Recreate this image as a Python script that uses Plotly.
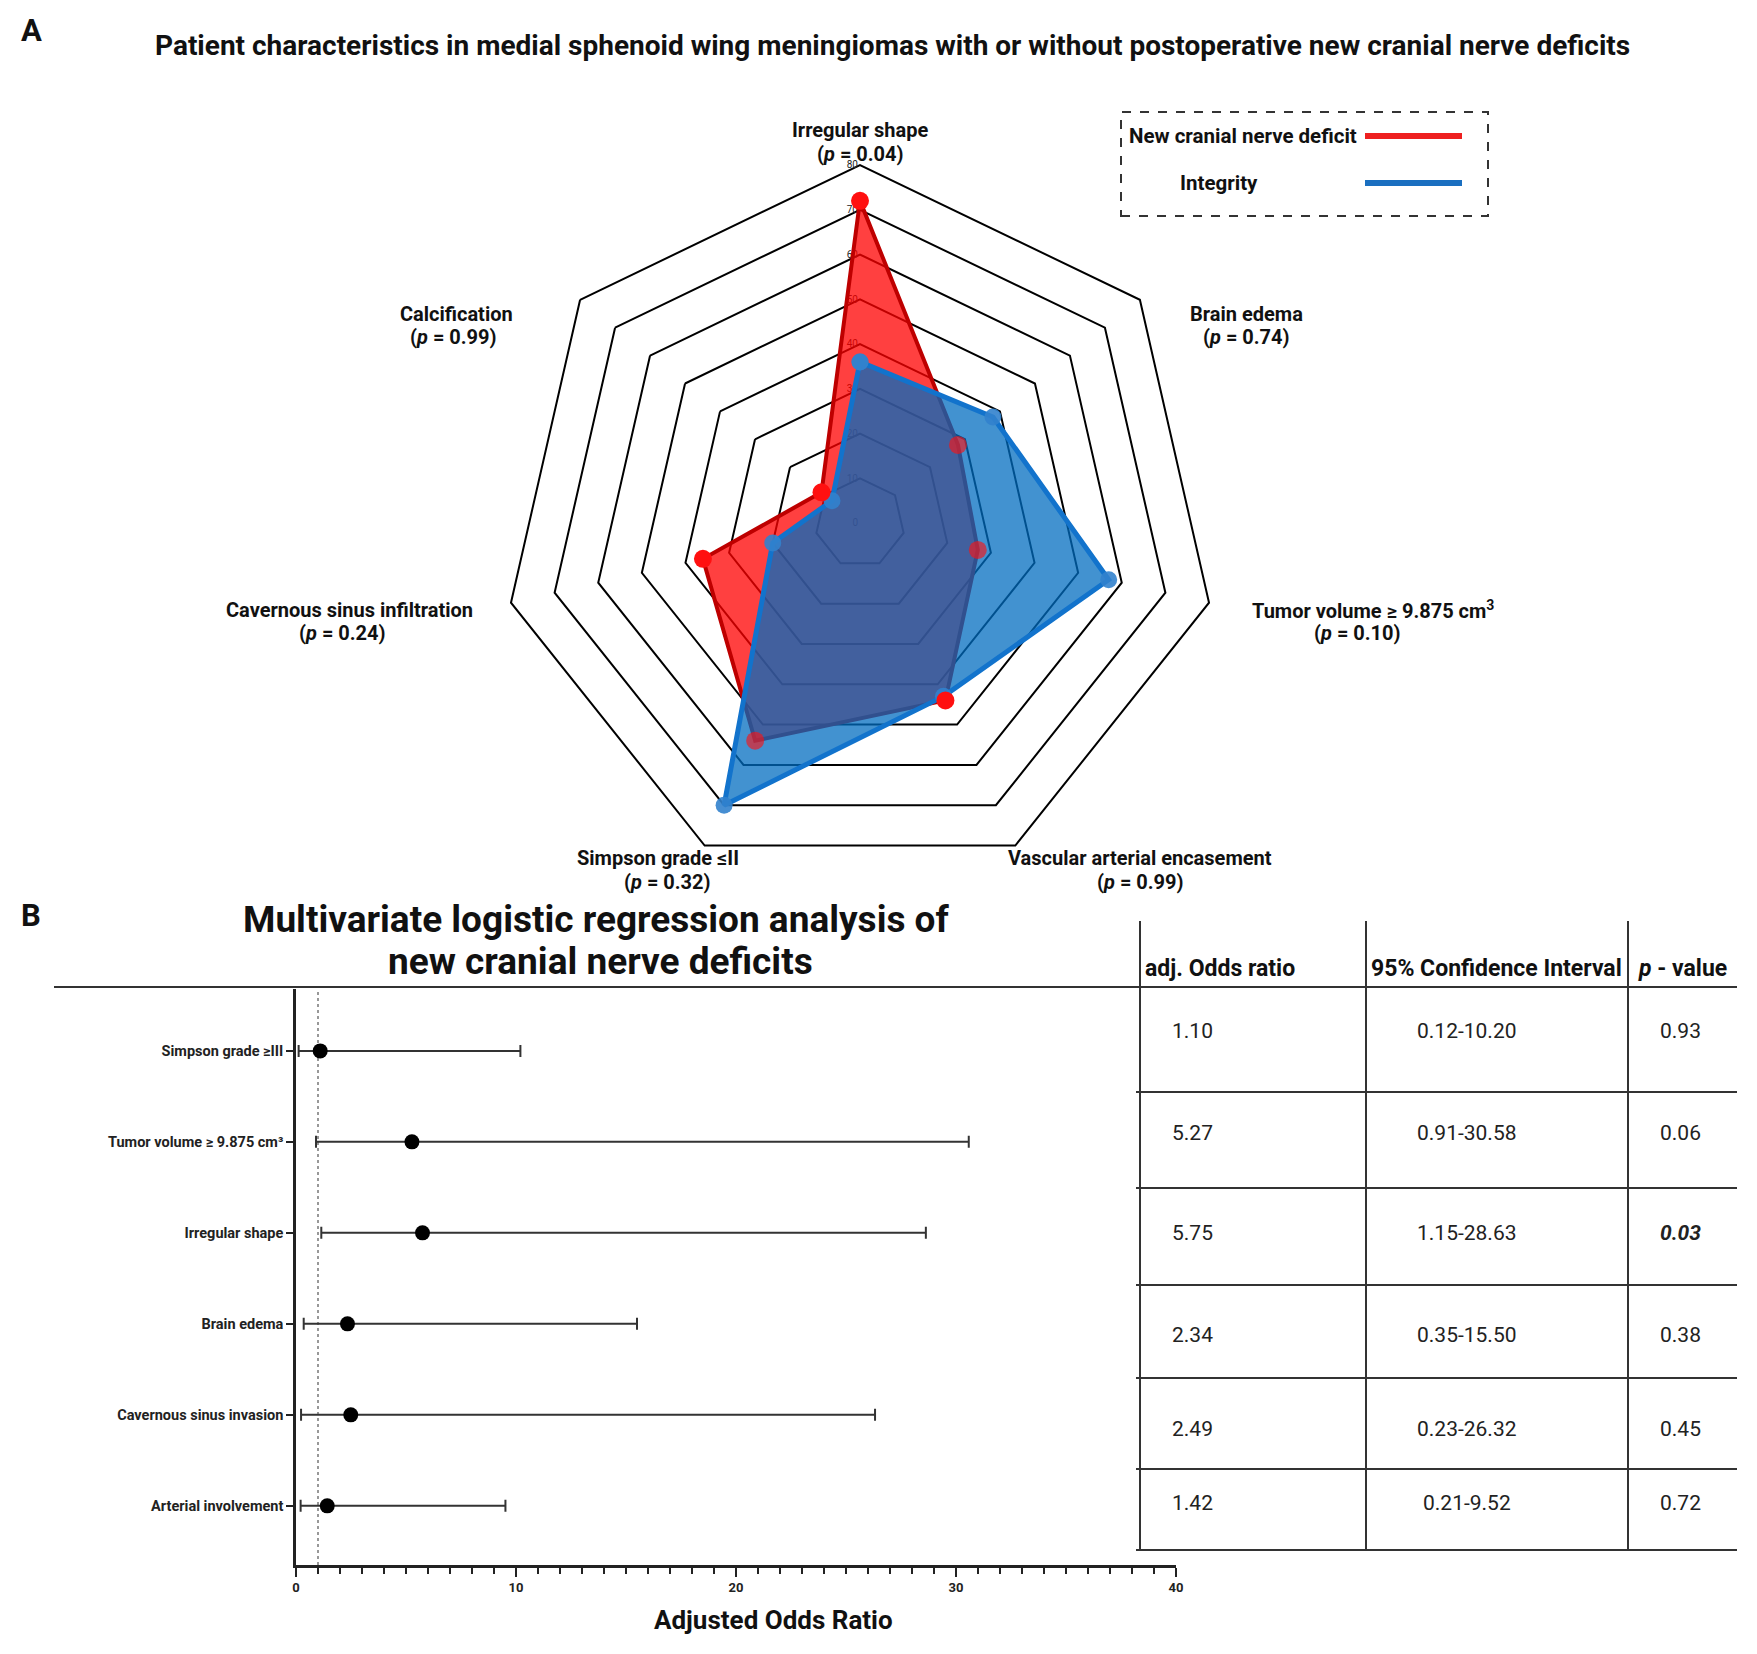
import plotly.graph_objects as go

W, H = 1757, 1654
OFF = 8                      # default page body margin
PW, PH = W - 2 * OFF, H - 2 * OFF

# ---------------- data ----------------
radar_categories = ["Irregular shape", "Brain edema", "Tumor volume ≥ 9.875 cm³",
                    "Vascular arterial encasement", "Simpson grade ≤II",
                    "Cavernous sinus infiltration", "Calcification"]
radar_labels = ["Irregular shape", "Brain edema", "Tumor volume ≥ 9.875 cm<sup>3</sup>",
                "Vascular arterial encasement", "Simpson grade ≤II",
                "Cavernous sinus infiltration", "Calcification"]
radar_pvalues = ["0.04", "0.74", "0.10", "0.99", "0.32", "0.24", "0.99"]
deficit_values = [72, 28, 27, 44, 54, 36, 11]
integrity_values = [36, 38, 57, 43, 70, 20, 8]
radial_ticks = [0, 10, 20, 30, 40, 50, 60, 70, 80]

forest_labels = ["Simpson grade ≥III", "Tumor volume ≥ 9.875 cm³", "Irregular shape",
                 "Brain edema", "Cavernous sinus invasion", "Arterial involvement"]
odds_ratio = [1.10, 5.27, 5.75, 2.34, 2.49, 1.42]
ci_low = [0.12, 0.91, 1.15, 0.35, 0.23, 0.21]
ci_high = [10.20, 30.58, 28.63, 15.50, 26.32, 9.52]
p_values = [0.93, 0.06, 0.03, 0.38, 0.45, 0.72]
x_ticks = [0, 10, 20, 30, 40]
table_headers = ["adj. Odds ratio", "95% Confidence Interval", "<i>p</i> - value"]

# ---------------- helpers (page pixel -> paper) ----------------
def px(x):
    return (x - OFF) / PW

def py(y):
    return 1 - (y - OFF) / PH

FONT = "Roboto"

def note(x, y, text, size, bold=False, xanchor="center", color="#111"):
    f = dict(size=size, family=FONT, color=color)
    if bold:
        f["weight"] = "bold"
    return dict(x=px(x), y=py(y), xref="paper", yref="paper", text=text, showarrow=False,
                xanchor=xanchor, yanchor="middle", align="center", font=f)

fig = go.Figure()

# ---------------- radar ----------------
fig.add_trace(go.Scatterpolar(
    r=deficit_values + deficit_values[:1],
    theta=radar_categories + radar_categories[:1],
    mode="lines", fill="toself",
    fillcolor="rgba(255,0,0,0.75)",
    line=dict(color="#be0000", width=4),
    name="New cranial nerve deficit", showlegend=False, hoverinfo="skip",
))
fig.add_trace(go.Scatterpolar(
    r=integrity_values + integrity_values[:1],
    theta=radar_categories + radar_categories[:1],
    mode="lines+markers", fill="toself",
    fillcolor="rgba(0,108,192,0.74)",
    line=dict(color="#1273cc", width=5),
    marker=dict(color="rgba(50,130,205,0.9)", size=17),
    name="Integrity", showlegend=False,
))
# deficit markers drawn on top; muted where they sit inside the Integrity area
marker_opacity = [0.62 if d < b else 1.0 for d, b in zip(deficit_values, integrity_values)]
fig.add_trace(go.Scatterpolar(
    r=deficit_values, theta=radar_categories, mode="markers",
    marker=dict(color="#ff1010", size=18, opacity=marker_opacity),
    name="New cranial nerve deficit", showlegend=False,
))

cx, cy, R = 860, 523, 358
polar = dict(
    domain=dict(x=[px(cx - R), px(cx + R)], y=[py(cy + R), py(cy - R)]),
    gridshape="linear",
    bgcolor="rgba(0,0,0,0)",
    radialaxis=dict(range=[0, 80], tickvals=radial_ticks, showline=False, ticks="",
                    showgrid=True, gridcolor="black", gridwidth=2, angle=90, tickangle=90,
                    tickfont=dict(size=10, color="#222", family=FONT),
                    layer="below traces", side="counterclockwise"),
    angularaxis=dict(rotation=90, direction="clockwise", showgrid=False, showline=True,
                     linecolor="black", linewidth=2, showticklabels=False, ticks="",
                     layer="below traces"),
)

annotations = []
name_pos = [(860, 130), (1246, 314), (1373, 609.5), (1140, 858), (658, 858), (349, 609.5), (456, 314)]
p_pos = [(860, 153.5), (1246, 337), (1357, 633), (1140, 882), (667, 882), (342, 633), (453, 337)]
for name, p, (nx, ny), (qx, qy) in zip(radar_labels, radar_pvalues, name_pos, p_pos):
    annotations.append(note(nx, ny, name, 20, bold=True))
    annotations.append(note(qx, qy, f"(<i>p</i> = {p})", 20, bold=True))

# panel letters and titles
annotations.append(note(31, 31, "A", 31, bold=True))
annotations.append(note(31, 915, "B", 31, bold=True))
annotations.append(note(892, 45,
    "Patient characteristics in medial sphenoid wing meningiomas with or without postoperative new cranial nerve deficits",
    28, bold=True))
annotations.append(note(596, 919, "Multivariate logistic regression analysis of", 37, bold=True))
annotations.append(note(600, 961, "new cranial nerve deficits", 37, bold=True))

# legend box
shapes = []
shapes.append(dict(type="rect", xref="paper", yref="paper", x0=px(1121), x1=px(1488),
                   y0=py(216), y1=py(112), line=dict(color="#333", width=2, dash="dash")))
shapes.append(dict(type="line", xref="paper", yref="paper", x0=px(1365), x1=px(1462),
                   y0=py(136), y1=py(136), line=dict(color="#ee2020", width=6)))
shapes.append(dict(type="line", xref="paper", yref="paper", x0=px(1365), x1=px(1462),
                   y0=py(183), y1=py(183), line=dict(color="#1a6fc0", width=6)))
annotations.append(note(1127, 136, "New cranial nerve deficit", 20.5, bold=True, xanchor="left"))
annotations.append(note(1219, 183, "Integrity", 20.5, bold=True))

# ---------------- forest plot ----------------
fig.add_trace(go.Scatter(
    x=odds_ratio, y=forest_labels, mode="markers",
    marker=dict(color="black", size=15),
    error_x=dict(type="data", symmetric=False,
                 array=[h - o for h, o in zip(ci_high, odds_ratio)],
                 arrayminus=[o - l for o, l in zip(odds_ratio, ci_low)],
                 color="#333", thickness=2, width=6),
    showlegend=False, xaxis="x", yaxis="y",
))

x0p, x1p = 296, 1176
ytop, ybot = 989, 1565
xaxis = dict(domain=[px(x0p), px(x1p)], range=[0, 40], anchor="y", showline=True,
             linecolor="#222", linewidth=2.5, ticks="outside", ticklen=9, tickwidth=2,
             tickcolor="#222", tickvals=x_ticks, showgrid=False, zeroline=False,
             tickfont=dict(size=13, family=FONT, color="#222", weight="bold"),
             minor=dict(dtick=1, ticks="outside", ticklen=6, tickwidth=2, tickcolor="#222"),
             automargin=False, fixedrange=True)
yaxis = dict(domain=[py(ybot), py(ytop)], type="category", categoryorder="array",
             categoryarray=forest_labels, range=[5.65, -0.68], anchor="x", showline=True,
             linecolor="#222", linewidth=2.5, ticks="outside", ticklen=7, tickwidth=2,
             tickcolor="#222", showgrid=False, zeroline=False,
             tickfont=dict(size=14.5, family=FONT, color="#222", weight="bold"),
             automargin=False, fixedrange=True)

# reference line at OR = 1
shapes.append(dict(type="line", xref="x", yref="y domain", x0=1, x1=1, y0=0, y1=1,
                   line=dict(color="#777", width=1.5, dash="dot"), layer="below"))

annotations.append(note(773, 1620, "Adjusted Odds Ratio", 26, bold=True))

# ---------------- table ----------------
line_style = dict(color="#333", width=2)
shapes.append(dict(type="line", xref="paper", yref="paper", x0=px(54), x1=px(1737),
                   y0=py(987), y1=py(987), line=line_style))
for vx in [1140, 1366, 1628]:
    shapes.append(dict(type="line", xref="paper", yref="paper", x0=px(vx), x1=px(vx),
                       y0=py(921), y1=py(1550), line=line_style))
for hy in [1092, 1188, 1285, 1378, 1469, 1550]:
    shapes.append(dict(type="line", xref="paper", yref="paper", x0=px(1136), x1=px(1737),
                       y0=py(hy), y1=py(hy), line=line_style))

header_x = [1220, 1496, 1682]
for hx, htxt in zip(header_x, table_headers):
    annotations.append(note(hx, 968, htxt, 23, bold=True))

row_y = [1031, 1133, 1233, 1335, 1429, 1503]
for i, yy in enumerate(row_y):
    annotations.append(note(1192, yy, f"{odds_ratio[i]:.2f}", 21, color="#222"))
    annotations.append(note(1467, yy, f"{ci_low[i]:.2f}-{ci_high[i]:.2f}", 21, color="#222"))
    ptxt = f"{p_values[i]:.2f}"
    if p_values[i] < 0.05:
        ptxt = f"<b><i>{ptxt}</i></b>"
    annotations.append(note(1680, yy, ptxt, 21, color="#222"))

fig.update_layout(
    width=PW, height=PH, margin=dict(l=0, r=0, t=0, b=0),
    paper_bgcolor="white", plot_bgcolor="white",
    template="none",
    polar=polar, xaxis=xaxis, yaxis=yaxis,
    annotations=annotations, shapes=shapes, showlegend=False,
    font=dict(family=FONT),
)

fig.write_html("out.html")
